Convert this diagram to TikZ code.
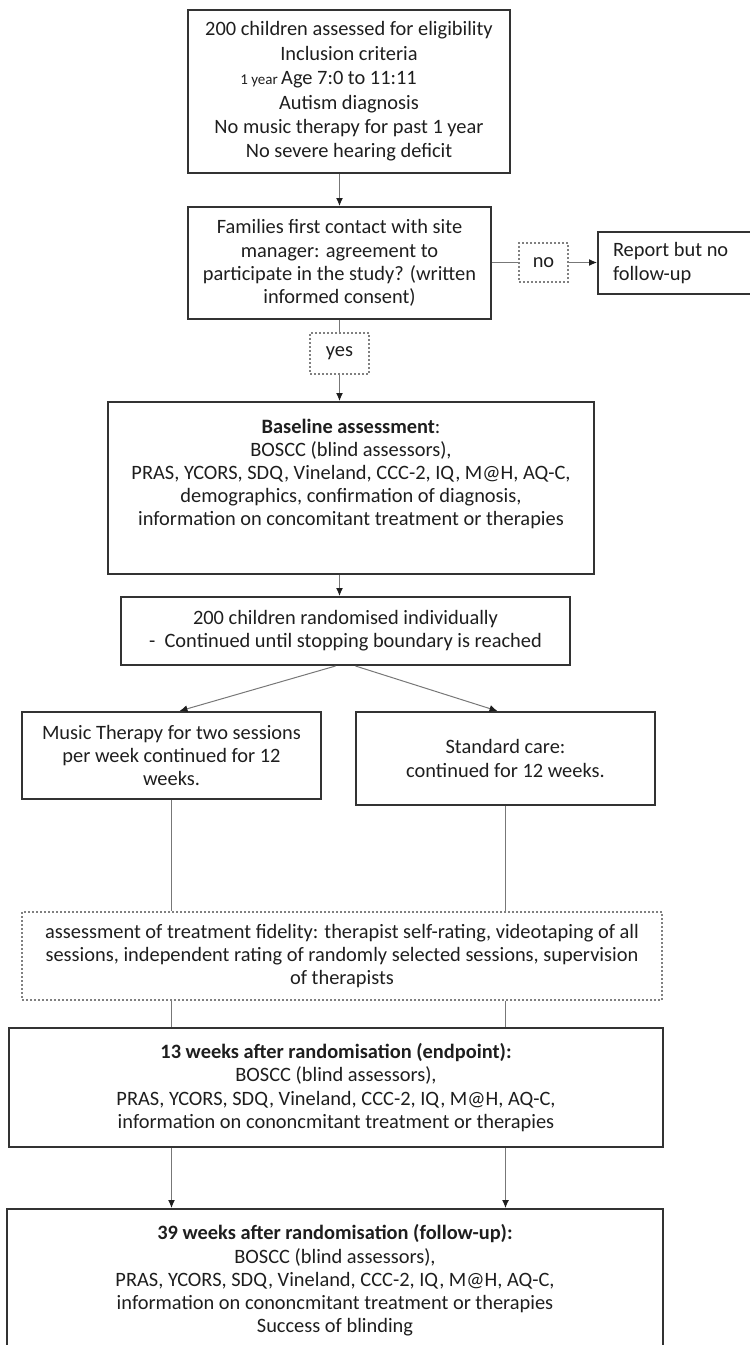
\documentclass[tikz,border=0pt]{standalone}
\usepackage{fontspec}
\setmainfont{Carlito}
\usetikzlibrary{arrows.meta}

\definecolor{boxline}{HTML}{333333}
\definecolor{linkline}{HTML}{777777}
\definecolor{ink}{HTML}{1E1E1E}

\tikzset{
  stage/.style={draw=boxline, line width=1pt, align=center, inner sep=2pt, text=ink,
    font=\fontsize{10.2}{11.6}\selectfont},
  tag/.style={stage, draw=gray, densely dotted, line width=0.6pt},
  link/.style={draw=linkline, line width=0.5pt},
  flow/.style={link, -{Latex[length=4pt,width=3.5pt,color=ink]}},
}

\begin{document}
\begin{tikzpicture}[x=1pt, y=-1pt]
  \useasboundingbox (0,0) rectangle (375,672.5);

  \node (elig) [stage, minimum width=161pt, minimum height=81.5pt,
    font=\fontsize{10.2}{12.2}\selectfont] at (174.5,45.75)
    {200 children assessed for eligibility\\ Inclusion criteria\\
     \llap{\fontsize{7.5}{9}\selectfont 1 year\ }Age 7:0 to 11:11\\ Autism diagnosis\\
     No music therapy for past 1 year\\ No severe hearing deficit};
  \node (consent) [stage, minimum width=151.5pt, minimum height=56pt] at (169.75,131.5)
    {Families first contact with site\\ manager: agreement to\\
     participate in the study? (written\\ informed consent)};
  \node (no) [tag, minimum width=24.5pt, minimum height=19.5pt] at (271.75,131.25) {no};
  \node (report) [stage, align=flush left, text width=66pt, inner xsep=7.5pt, minimum height=31pt]
    at (339.5,131.5) {Report but no\\ follow-up};
  \node (yes) [tag, minimum width=29.5pt, minimum height=20.5pt] at (169.75,176.75) {yes};

  \node (base) [stage, minimum width=243pt, minimum height=86pt] at (175.5,244)
    {\textbf{Baseline assessment}:\\ BOSCC (blind assessors),\\
     PRAS, YCORS, SDQ, Vineland, CCC-2, IQ, M@H, AQ-C,\\
     demographics, confirmation of diagnosis,\\
     information on concomitant treatment or therapies\\[4pt] \mbox{}};
  \node (rand) [stage, minimum width=224.5pt, minimum height=34pt] at (172.75,315.5)
    {200 children randomised individually\\ -~ Continued until stopping boundary is reached};

  \node (music) [stage, minimum width=149.5pt, minimum height=43.5pt] at (85.75,377.75)
    {Music Therapy for two sessions\\ per week continued for 12\\ weeks.};
  \node (care) [stage, minimum width=149.5pt, minimum height=46.5pt] at (252.75,379.25)
    {Standard care:\\ continued for 12 weeks.};

  \node (fid) [tag, minimum width=320pt, minimum height=44pt] at (171,478)
    {assessment of treatment fidelity: therapist self-rating, videotaping of all\\
     sessions, independent rating of randomly selected sessions, supervision\\
     of therapists};

  \node (endp) [stage, minimum width=327pt, minimum height=59.5pt] at (168,543.75)
    {\textbf{13 weeks after randomisation (endpoint):}\\ BOSCC (blind assessors),\\
     PRAS, YCORS, SDQ, Vineland, CCC-2, IQ, M@H, AQ-C,\\
     information on cononcmitant treatment or therapies};
  \node (follow) [stage, minimum width=328pt, minimum height=71.5pt] at (167.5,640.25)
    {\textbf{39 weeks after randomisation (follow-up):}\\ BOSCC (blind assessors),\\
     PRAS, YCORS, SDQ, Vineland, CCC-2, IQ, M@H, AQ-C,\\
     information on cononcmitant treatment or therapies\\ Success of blinding};

  \draw [flow] (elig.south -| consent.north) -- (consent.north);
  \draw [link] (consent) -- (yes);
  \draw [flow] (yes.south) -- (yes.south |- base.north);
  \draw [link] (no.west -| consent.east) -- (no.west);
  \draw [flow] (no.east) -- (no.east -| report.west);
  \draw [flow] (base.south -| consent.north) -- (rand.north -| consent.north);

  \draw [flow] ([xshift=-5pt]rand.south) -- ([xshift=4pt]music.north);
  \draw [flow] ([xshift=5pt]rand.south) -- ([xshift=-4pt]care.north);
  \draw [link] (music) -- (music |- fid.north);
  \draw [link] (care) -- (care |- fid.north);

  \draw [link] (fid.south -| music) -- (endp.north -| music);
  \draw [link] (fid.south -| care) -- (endp.north -| care);
  \draw [flow] (endp.south -| music) -- (follow.north -| music);
  \draw [flow] (endp.south -| care) -- (follow.north -| care);
\end{tikzpicture}
\end{document}
